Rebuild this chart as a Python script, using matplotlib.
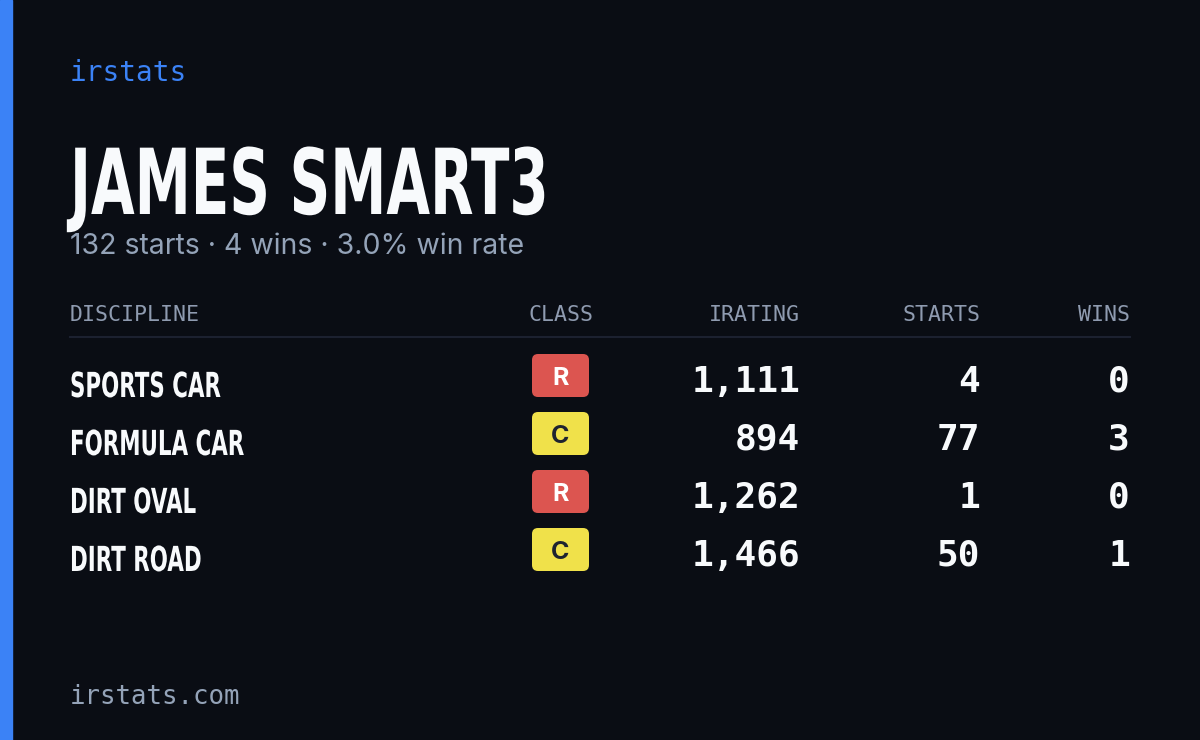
import matplotlib.pyplot as plt
from matplotlib.patches import FancyBboxPatch, Rectangle, PathPatch
from matplotlib.textpath import TextPath
from matplotlib.font_manager import FontProperties
from matplotlib.transforms import Affine2D

# card data
driver = "JAMES SMART3"
summary = "132 starts · 4 wins · 3.0% win rate"
headers = ["DISCIPLINE", "CLASS", "IRATING", "STARTS", "WINS"]
disciplines = ["SPORTS CAR", "FORMULA CAR", "DIRT OVAL", "DIRT ROAD"]
classes = ["R", "C", "R", "C"]
iratings = [1111, 894, 1262, 1466]
starts = [4, 77, 1, 50]
wins = [0, 3, 0, 1]

BG = "#0a0d14"
class_colors = {"R": ("#dc5550", "#ffffff"), "C": ("#f0e14a", "#1e2330")}
mono = "DejaVu Sans Mono"

fig = plt.figure(figsize=(12, 7.4), dpi=100)
fig.patch.set_facecolor(BG)
ax = fig.add_axes([0, 0, 1, 1])
ax.set_xlim(0, 1200)
ax.set_ylim(740, 0)
ax.axis("off")


def condensed(x, y, s, size, sx=0.62):
    # no condensed font installed, so squeeze a bold path horizontally
    tp = TextPath((0, 0), s, size=size, prop=FontProperties(family="DejaVu Sans", weight="bold"))
    path = Affine2D().scale(sx, -1).translate(x, y).transform_path(tp)
    ax.add_patch(PathPatch(path, fc="#f8fafc", ec="none"))


ax.add_patch(Rectangle((0, 0), 12, 740, color="#3b82f6"))

ax.text(70, 73, "irstats", family=mono, fontsize=20, color="#3b82f6", va="center")
condensed(70, 214, driver, 91)
ax.text(70, 254, summary, family="Inter", fontsize=20.5, color="#94a3b8", va="baseline")

# header row
hx = [70, 593, 800, 980, 1130]
for i, (h, x) in enumerate(zip(headers, hx)):
    ha = "left" if i == 0 else "right"
    ax.text(x, 321, h, family=mono, fontsize=15.5, color="#8f9bb0", ha=ha, va="baseline")
ax.plot([70, 1130], [337, 337], color="#1c2130", lw=1.5)

for i, d in enumerate(disciplines):
    yc = 376 + i * 58
    condensed(70, yc + 21, d, 34.5)
    fc, tc = class_colors[classes[i]]
    ax.add_patch(FancyBboxPatch((532, yc - 22), 57, 43,
                                boxstyle="round,pad=0,rounding_size=6",
                                fc=fc, ec="none"))
    ax.text(560.5, yc + 9, classes[i], family="Inter", fontweight="bold",
            fontsize=18, color=tc, ha="center", va="baseline")
    for x, v in zip(hx[2:], [iratings[i], starts[i], wins[i]]):
        ax.text(x, yc + 16, f"{v:,}", family=mono, fontweight="bold", fontsize=26,
                color="#f8fafc", ha="right", va="baseline")

ax.text(70, 697, "irstats.com", family=mono, fontsize=18.5, color="#94a3b8", va="center")

fig.savefig("out.png", dpi=100, facecolor=BG)
